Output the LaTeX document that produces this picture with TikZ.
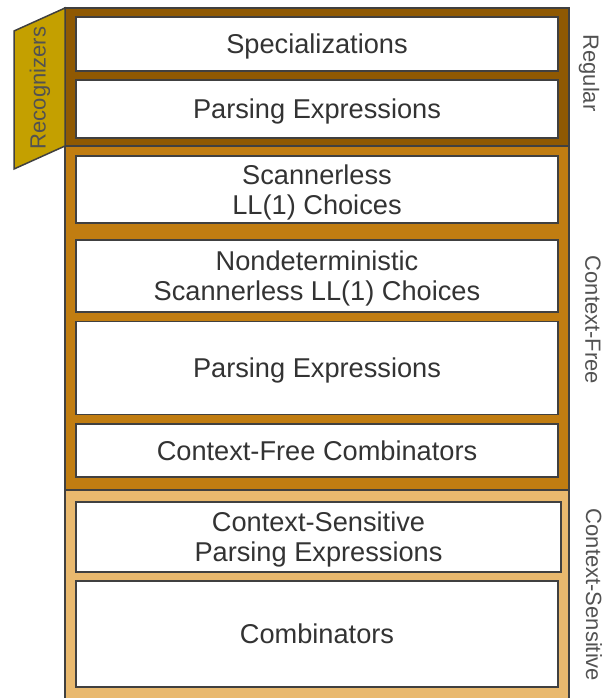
\documentclass[tikz,border=0pt]{standalone}
\usepackage{fontspec}
\setmainfont{Liberation Sans}
\definecolor{regular}{HTML}{8F5902}
\definecolor{contextfree}{HTML}{C17D11}
\definecolor{contextsens}{HTML}{E9B96E}
\definecolor{recog}{HTML}{C4A000}
\definecolor{edge}{HTML}{404040}
\definecolor{ink}{HTML}{333333}
\tikzset{
	band/.style={draw=edge,line width=1.5pt},
	layer/.style={draw=edge,line width=1.5pt,fill=white,text=ink,align=center,
		minimum width=482pt,inner sep=0pt,text height=19.5pt,text depth=0pt,
		font=\fontsize{27.2}{30}\selectfont},
	twoline/.style={text height=49.5pt},
	side/.style={text=ink!85,inner sep=0pt,font=\fontsize{22}{24}\selectfont}
}
\begin{document}
\begin{tikzpicture}[x=1pt,y=-1pt]
	\useasboundingbox (0,0) rectangle (603,698);

	\draw [band,fill=contextsens] (65,490) rectangle (569,704);
	\draw [band,fill=contextfree] (65,146) rectangle (569,490);
	\draw [band,fill=regular] (65,8) rectangle (569,146);
	\draw [band,fill=recog] (14,31) -- (65,8) -- (65,146) -- (14,169) -- cycle;

	\node[layer,minimum height=54pt] (spec)at(317,44){Specializations};
	\node[layer,minimum height=58pt] (pe1)at(317,109){Parsing Expressions};

	\node[layer,twoline,minimum height=67pt] (scan)at(317,189.5){Scannerless\\LL(1) Choices};
	\node[layer,twoline,minimum height=72pt] (nondet)at(317,276){Nondeterministic\\Scannerless LL(1) Choices};
	\node[layer,minimum height=93pt] (pe2)at(317,368){Parsing Expressions};
	\node[layer,minimum height=53pt] (cfc)at(317,450.5){Context-Free Combinators};

	\node[layer,twoline,minimum height=70pt,minimum width=485pt] (csp)at(318.5,537){Context-Sensitive\\Parsing Expressions};
	\node[layer,minimum height=106pt] (comb)at(317,634){Combinators};

	\node[side,rotate=90] (rec)at(40,88){Recognizers};
	\node[side,rotate=-90] (reg)at(589,73){Regular};
	\node[side,rotate=-90] (cf)at(593,320){Context-Free};
	\node[side,rotate=-90] (cs)at(594,595){Context-Sensitive};
\end{tikzpicture}
\end{document}
